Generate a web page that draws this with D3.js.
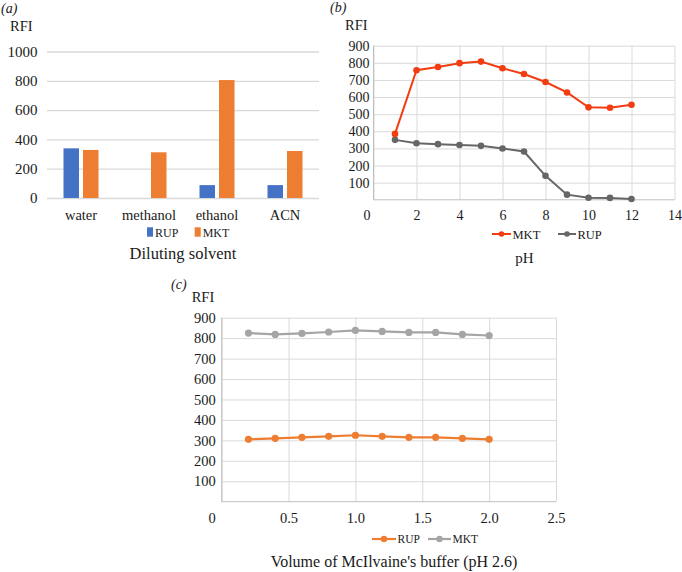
<!DOCTYPE html>
<html><head><meta charset="utf-8">
<script src="https://cdn.jsdelivr.net/npm/d3@7"></script>
<style>
body{margin:0;background:#fff}
</style></head><body>
<svg id="c" width="682" height="572"></svg>
<script>
// ---- data ----
const solvents = ["water","methanol","ethanol","ACN"];
const seriesA = ["RUP","MKT"];
const rupSolvent = [339, 0, 88, 88];
const mktSolvent = [328, 312, 805, 321];
const yTicksA = [0,200,400,600,800,1000];

const pH = [1,2,3,4,5,6,7,8,9,10,11,12];
const mktPH = [385,757,776,798,807,768,735,688,627,540,538,555];
const rupPH = [350,330,325,320,315,300,282,140,30,12,11,5];
const xTicksB = [0,2,4,6,8,10,12,14];
const yTicksB = [100,200,300,400,500,600,700,800,900];

const volume = [0.2,0.4,0.6,0.8,1.0,1.2,1.4,1.6,1.8,2.0];
const rupVol = [305,310,315,320,325,320,315,315,310,305];
const mktVol = [825,818,823,830,838,833,828,828,818,813];
const xTicksC = [0,0.5,1.0,1.5,2.0,2.5];
const yTicksC = [100,200,300,400,500,600,700,800,900];

const FONT = '"Liberation Serif","Times New Roman",serif';
const INK = "#1a1a1a";
const svg = d3.select("#c").attr("font-family",FONT);
const grid = "#d9d9d9";
function styleTicks(sel,size){
  sel.attr("font-family",FONT);
  sel.selectAll(".tick text").attr("font-size",size).attr("fill",INK).attr("font-family",FONT);
}

// ================= (a) =================
{
  const g = svg.append("g");
  const x0 = d3.scaleBand().domain(solvents).range([47,319]);
  const x1 = d3.scaleBand().domain(seriesA).range([16.5,51.5]).paddingInner(0.205);
  const y = d3.scaleLinear().domain([0,1000]).range([198,51.5]);
  const colors = {RUP:"#4472c4", MKT:"#ed7d31"};
  const ya = g.append("g").attr("transform","translate(47,0)")
    .call(d3.axisLeft(y).tickValues(yTicksA).tickFormat(d3.format("d")).tickSize(-272).tickPadding(9.5));
  ya.select(".domain").remove();
  ya.selectAll(".tick line").attr("stroke",grid).attr("stroke-width",1.3);
  styleTicks(ya,15);
  const rows = solvents.map((s,i)=>({s, RUP:rupSolvent[i], MKT:mktSolvent[i]}));
  rows.forEach(r=>{
    seriesA.forEach(k=>{
      if(r[k]<=0) return;
      g.append("rect").attr("x",x0(r.s)+x1(k)).attr("width",x1.bandwidth())
        .attr("y",y(r[k])).attr("height",y(0)-y(r[k])).attr("fill",colors[k]);
    });
  });
  const xa = g.append("g").attr("transform","translate(0,198)")
    .call(d3.axisBottom(x0).tickSize(0).tickPadding(12));
  xa.select(".domain").remove();
  styleTicks(xa,14.5);
  const leg = [{k:"RUP",x:147},{k:"MKT",x:194.7}];
  leg.forEach(l=>{
    g.append("rect").attr("x",l.x).attr("y",227.3).attr("width",6).attr("height",9.4).attr("fill",colors[l.k]);
    g.append("text").attr("x",l.x+8).attr("y",236.5).attr("font-size",12).attr("fill",INK).text(l.k);
  });
  g.append("text").attr("x",183).attr("y",259).attr("text-anchor","middle").attr("font-size",16.5).attr("fill",INK).text("Diluting solvent");
  g.append("text").attr("x",10).attr("y",31).attr("font-size",14.5).attr("fill",INK).text("RFI");
  g.append("text").attr("x",1).attr("y",13).attr("font-size",14).attr("font-style","italic").attr("fill",INK).text("(a)");
}

// ================= (b) =================
{
  const g = svg.append("g");
  const x = d3.scaleLinear().domain([0,14]).range([373.5,674.5]);
  const y = d3.scaleLinear().domain([0,900]).range([199.8,45.7]);
  const gy = g.append("g").attr("transform","translate(373.5,0)")
    .call(d3.axisLeft(y).tickValues(yTicksB).tickSize(-301).tickPadding(4));
  gy.select(".domain").remove();
  gy.selectAll(".tick line").attr("stroke",grid);
  styleTicks(gy,14);
  const gx = g.append("g").attr("transform","translate(0,199.8)")
    .call(d3.axisBottom(x).tickValues(xTicksB).tickSize(-154.1).tickPadding(10));
  gx.select(".domain").remove();
  gx.selectAll(".tick line").attr("stroke",grid);
  styleTicks(gx,14);
  gx.selectAll(".tick text").attr("dx",(d)=>d===0?-7:0);
  g.append("line").attr("x1",373.5).attr("x2",373.5).attr("y1",45.7).attr("y2",199.8).attr("stroke","#bfbfbf");
  g.append("line").attr("x1",373.5).attr("x2",674.5).attr("y1",199.8).attr("y2",199.8).attr("stroke","#bfbfbf");
  const line = d3.line().x(d=>x(d[0])).y(d=>y(d[1]));
  const sers = [
    {name:"RUP", vals:rupPH, color:"#666666"},
    {name:"MKT", vals:mktPH, color:"#f23d13"}
  ];
  sers.forEach(s=>{
    const pts = pH.map((p,i)=>[p,s.vals[i]]);
    g.append("path").attr("d",line(pts)).attr("fill","none").attr("stroke",s.color).attr("stroke-width",2);
    g.selectAll(null).data(pts).enter().append("circle")
      .attr("cx",d=>x(d[0])).attr("cy",d=>y(d[1])).attr("r",3.3).attr("fill",s.color);
  });
  const leg = [{n:"MKT",c:"#f23d13",x1:492,x2:511},{n:"RUP",c:"#666666",x1:558,x2:576}];
  leg.forEach(l=>{
    g.append("line").attr("x1",l.x1).attr("x2",l.x2).attr("y1",234).attr("y2",234).attr("stroke",l.c).attr("stroke-width",2);
    g.append("circle").attr("cx",(l.x1+l.x2)/2).attr("cy",234).attr("r",2.8).attr("fill",l.c);
    g.append("text").attr("x",l.x2+1.5).attr("y",238.5).attr("font-size",12.5).attr("fill",INK).text(l.n);
  });
  g.append("text").attr("x",524.5).attr("y",262.5).attr("text-anchor","middle").attr("font-size",15).attr("fill",INK).text("pH");
  g.append("text").attr("x",345).attr("y",30).attr("font-size",14.5).attr("fill",INK).text("RFI");
  g.append("text").attr("x",330).attr("y",12).attr("font-size",14).attr("font-style","italic").attr("fill",INK).text("(b)");
}

// ================= (c) =================
{
  const g = svg.append("g");
  const x = d3.scaleLinear().domain([0,2.5]).range([221.7,556]);
  const y = d3.scaleLinear().domain([0,900]).range([501.7,317.7]);
  const gy = g.append("g").attr("transform","translate(221.7,0)")
    .call(d3.axisLeft(y).tickValues(yTicksC).tickSize(-334.3).tickPadding(6));
  gy.select(".domain").remove();
  gy.selectAll(".tick line").attr("stroke",grid);
  styleTicks(gy,14.5);
  const gx = g.append("g").attr("transform","translate(0,501.7)")
    .call(d3.axisBottom(x).tickValues(xTicksC).tickFormat(d=>d===0?"0":d3.format(".1f")(d)).tickSize(-184).tickPadding(11));
  gx.select(".domain").remove();
  gx.selectAll(".tick line").attr("stroke",grid);
  styleTicks(gx,14.5);
  gx.selectAll(".tick text").attr("dx",(d)=>d===0?-10:0);
  g.append("line").attr("x1",221.7).attr("x2",221.7).attr("y1",317.7).attr("y2",501.7).attr("stroke","#bfbfbf");
  g.append("line").attr("x1",221.7).attr("x2",556).attr("y1",501.7).attr("y2",501.7).attr("stroke","#bfbfbf");
  const line = d3.line().x(d=>x(d[0])).y(d=>y(d[1]));
  const sers = [
    {name:"MKT", vals:mktVol, color:"#a5a5a5"},
    {name:"RUP", vals:rupVol, color:"#ed7d31"}
  ];
  sers.forEach(s=>{
    const pts = volume.map((v,i)=>[v,s.vals[i]]);
    g.append("path").attr("d",line(pts)).attr("fill","none").attr("stroke",s.color).attr("stroke-width",2.2);
    g.selectAll(null).data(pts).enter().append("circle")
      .attr("cx",d=>x(d[0])).attr("cy",d=>y(d[1])).attr("r",3.6).attr("fill",s.color);
  });
  const leg = [{n:"RUP",c:"#ed7d31",x1:372,x2:396},{n:"MKT",c:"#a5a5a5",x1:428,x2:451}];
  leg.forEach(l=>{
    g.append("line").attr("x1",l.x1).attr("x2",l.x2).attr("y1",539).attr("y2",539).attr("stroke",l.c).attr("stroke-width",2.2);
    g.append("circle").attr("cx",(l.x1+l.x2)/2).attr("cy",539).attr("r",3.2).attr("fill",l.c);
    g.append("text").attr("x",l.x2+1.5).attr("y",543).attr("font-size",11.5).attr("fill",INK).text(l.n);
  });
  g.append("text").attr("x",394).attr("y",567).attr("text-anchor","middle").attr("font-size",16).attr("fill",INK).text("Volume of McIlvaine's buffer (pH 2.6)");
  g.append("text").attr("x",191.7).attr("y",301.7).attr("font-size",14.5).attr("fill",INK).text("RFI");
  g.append("text").attr("x",171).attr("y",289).attr("font-size",14).attr("font-style","italic").attr("fill",INK).text("(c)");
}
</script>
</body></html>
